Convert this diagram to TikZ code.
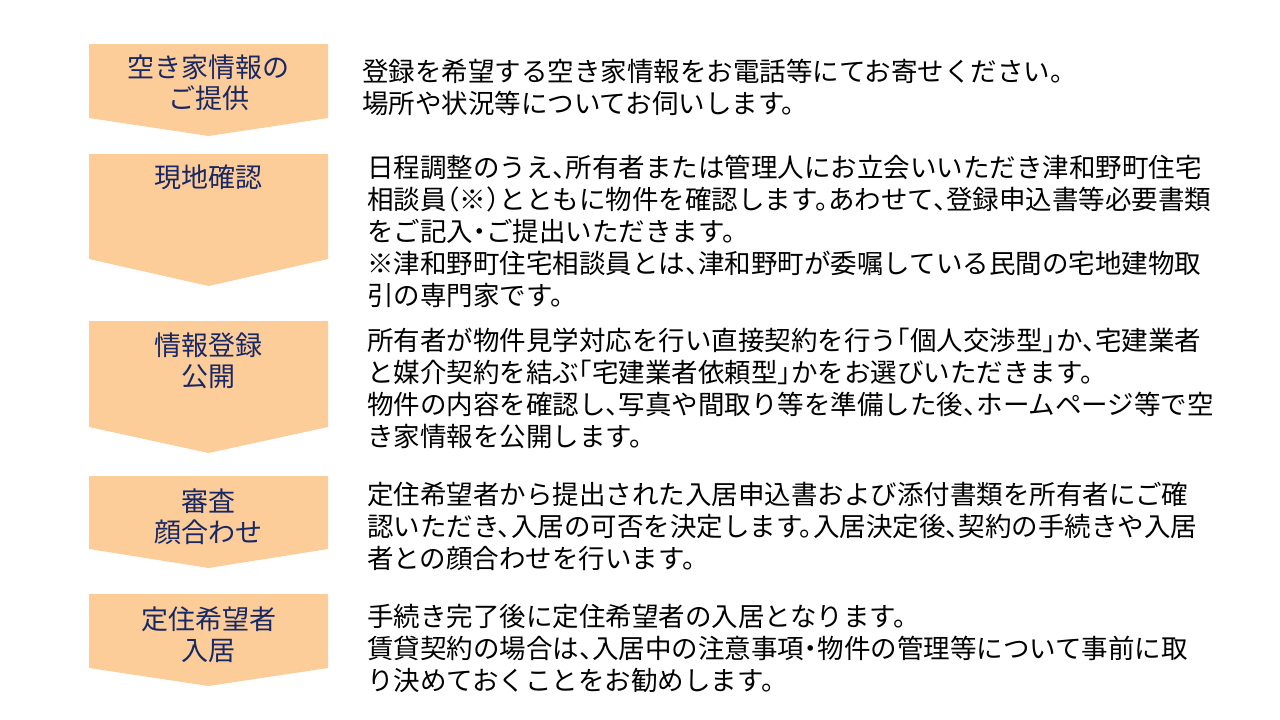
\documentclass[tikz,border=0pt]{standalone}
\usepackage{fontspec}
\setmainfont{Noto Sans CJK JP}[RawFeature=+halt]
\usepackage{xcolor}
\definecolor{peach}{RGB}{252,204,153}
\definecolor{navy}{RGB}{24,40,100}
\tikzset{
  stepshape/.style={fill=peach,draw=none},
  steplabel/.style={align=center,text=navy,inner sep=0pt,font=\fontsize{27}{31}\selectfont},
  stepinfo/.style={align=left,anchor=west,inner sep=0pt,font=\fontsize{26.5}{32}\selectfont}
}
\begin{document}
\begin{tikzpicture}[x=1pt,y=-1pt]
\useasboundingbox (0,0) rectangle (1280,720);

  % step 1
  \fill[stepshape] (89,44) -- (328,44) -- (328,118) -- (208.5,136) -- (89,118) -- cycle;
  \node[steplabel] at (208.5,83) (lab1) {空き家情報の\\ご提供};
  \node[stepinfo] at (362,87) (info1) {登録を希望する空き家情報をお電話等にてお寄せください。\\場所や状況等についてお伺いします。};

  % step 2
  \fill[stepshape] (89,154) -- (328,154) -- (328,259) -- (208.5,286) -- (89,259) -- cycle;
  \node[steplabel] at (208.5,177) (lab2) {現地確認};
  \node[stepinfo] at (367,231) (info2) {日程調整のうえ、所有者または管理人にお立会いいただき津和野町住宅\\相談員（※）とともに物件を確認します。あわせて、登録申込書等必要書類\\をご記入・ご提出いただきます。\\※津和野町住宅相談員とは、津和野町が委嘱している民間の宅地建物取\\引の専門家です。};

  % step 3
  \fill[stepshape] (89,321) -- (328,321) -- (328,427) -- (208.5,453) -- (89,427) -- cycle;
  \node[steplabel] at (208.5,361) (lab3) {情報登録\\公開};
  \node[stepinfo] at (367,388) (info3) {所有者が物件見学対応を行い直接契約を行う「個人交渉型」か、宅建業者\\と媒介契約を結ぶ「宅建業者依頼型」かをお選びいただきます。\\物件の内容を確認し、写真や間取り等を準備した後、ホームページ等で空\\き家情報を公開します。};

  % step 4
  \fill[stepshape] (89,476) -- (328,476) -- (328,549) -- (208.5,568) -- (89,549) -- cycle;
  \node[steplabel] at (208.5,517) (lab4) {審査\\顔合わせ};
  \node[stepinfo] at (367,526) (info4) {定住希望者から提出された入居申込書および添付書類を所有者にご確\\認いただき、入居の可否を決定します。入居決定後、契約の手続きや入居\\者との顔合わせを行います。};

  % step 5
  \fill[stepshape] (89,594) -- (328,594) -- (328,668) -- (208.5,686) -- (89,668) -- cycle;
  \node[steplabel] at (208.5,635) (lab5) {定住希望者\\入居};
  \node[stepinfo] at (367,648) (info5) {手続き完了後に定住希望者の入居となります。\\賃貸契約の場合は、入居中の注意事項・物件の管理等について事前に取\\り決めておくことをお勧めします。};

\end{tikzpicture}
\end{document}
